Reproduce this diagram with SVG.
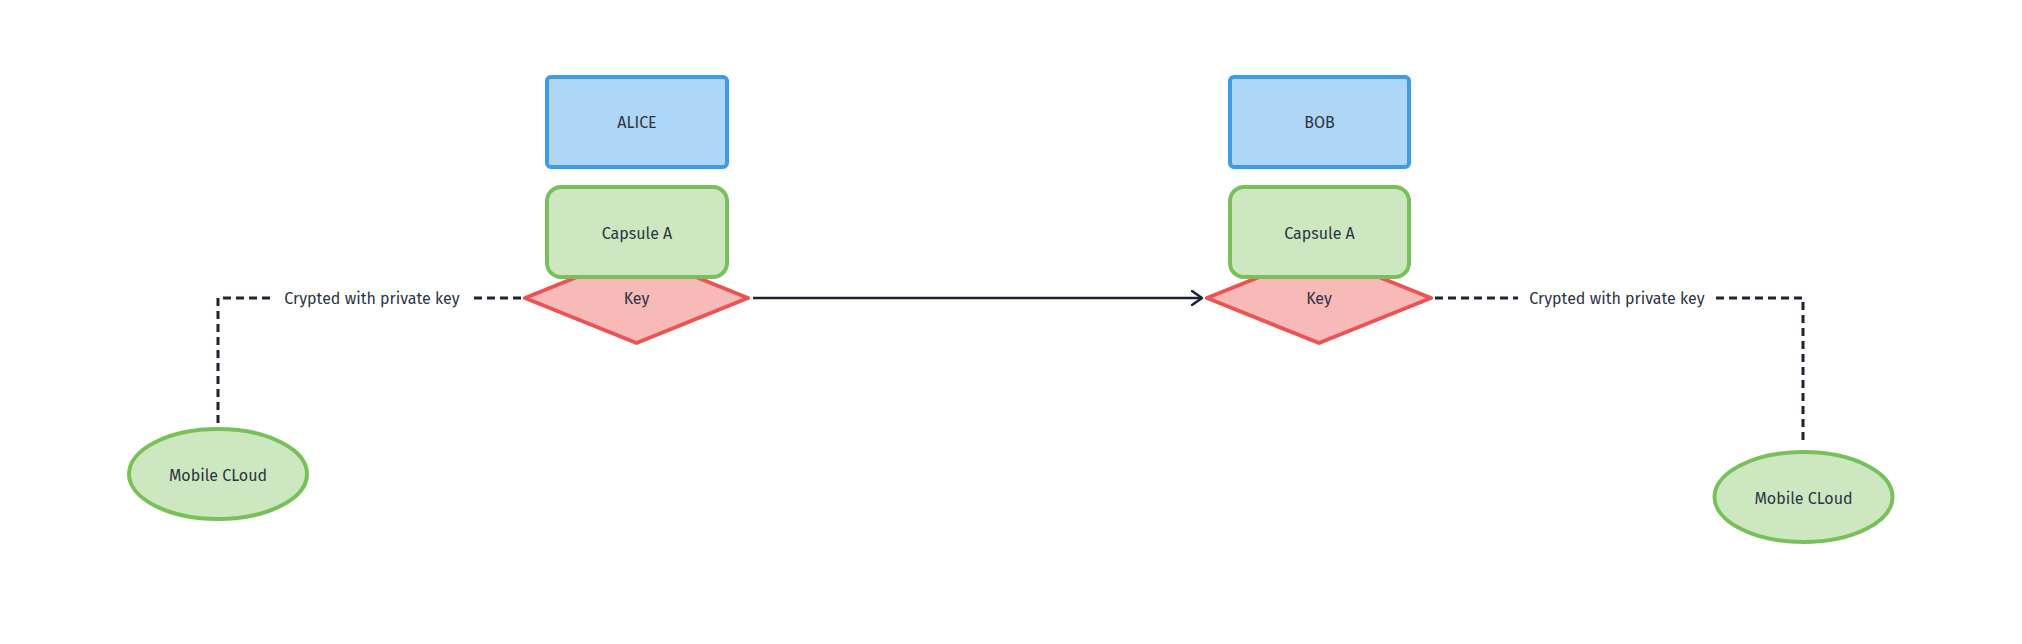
<svg xmlns="http://www.w3.org/2000/svg" width="2022" height="644" viewBox="0 0 2022 644">
<style>
text{font-family:"Fira Sans","Open Sans","Noto Sans",sans-serif;font-size:16px;fill:#2d3444;text-anchor:middle;dominant-baseline:central}
.blue{fill:#b0d6f5;stroke:#3c9ce8;stroke-width:4}
.green{fill:#cde8c0;stroke:#78c05a;stroke-width:4}
.red{fill:#f8b9b9;stroke:#ec5454;stroke-width:4;stroke-linejoin:round}
.dash{fill:none;stroke:#1e2233;stroke-width:3;stroke-dasharray:8 5}
.solid{fill:none;stroke:#1e2233;stroke-width:2.5}
</style>
<defs>
<marker id="arr" viewBox="0 0 12 16" refX="11" refY="8" markerWidth="12" markerHeight="16" markerUnits="userSpaceOnUse" orient="auto">
<path d="M1,1 L11,8 L1,15" fill="none" stroke="#1e2233" stroke-width="2.5" stroke-linecap="round" stroke-linejoin="round"/>
</marker>
</defs>
<rect width="2022" height="644" fill="#ffffff"/>
<g id="connectors">
<path class="dash" d="M218,423 V298 H270"/>
<path class="dash" d="M474,298 H521"/>
<text x="372" y="298">Crypted with private key</text>
<path class="dash" d="M1435,298 H1518"/>
<path class="dash" d="M1716,298 H1803 V443"/>
<text x="1617" y="298">Crypted with private key</text>
<path class="solid" d="M753,298 H1202" marker-end="url(#arr)"/>
</g>
<g id="key-a">
<polygon class="red" points="525,298 636.5,253 748,298 636.5,343"/>
<text x="636.5" y="298">Key</text>
</g>
<g id="alice">
<rect class="blue" x="547" y="77" width="180" height="90" rx="4"/>
<text x="637" y="122">ALICE</text>
</g>
<g id="capsule-a">
<rect class="green" x="547" y="187" width="180" height="90" rx="14"/>
<text x="637" y="233">Capsule A</text>
</g>
<g id="key-b">
<polygon class="red" points="1207,298 1319,253 1431,298 1319,343"/>
<text x="1319" y="298">Key</text>
</g>
<g id="bob">
<rect class="blue" x="1230" y="77" width="179" height="90" rx="4"/>
<text x="1319.5" y="122">BOB</text>
</g>
<g id="capsule-b">
<rect class="green" x="1230" y="187" width="179" height="90" rx="14"/>
<text x="1319.5" y="233">Capsule A</text>
</g>
<g id="cloud-left">
<ellipse class="green" cx="218" cy="474" rx="89" ry="45"/>
<text x="218" y="475">Mobile CLoud</text>
</g>
<g id="cloud-right">
<ellipse class="green" cx="1803.5" cy="497" rx="89" ry="45"/>
<text x="1803.5" y="498">Mobile CLoud</text>
</g>
</svg>
